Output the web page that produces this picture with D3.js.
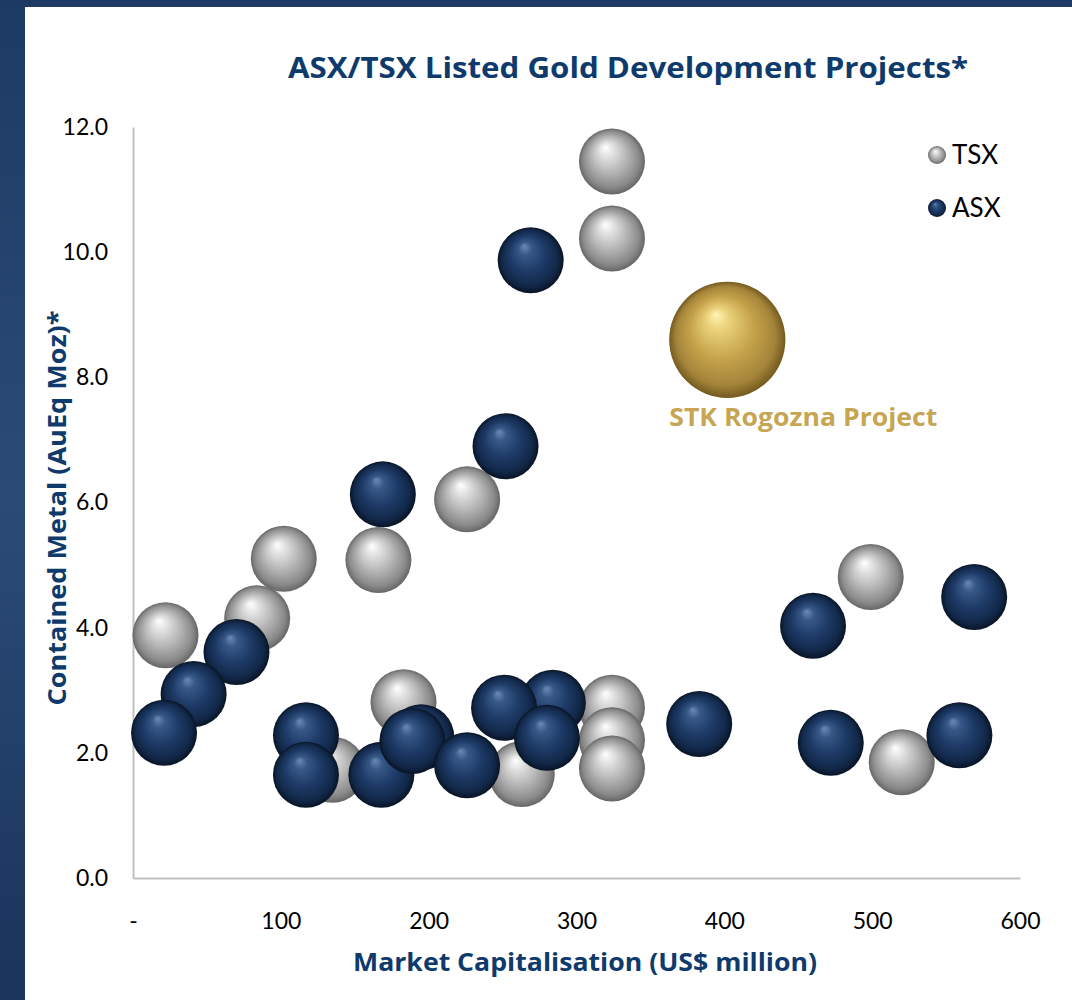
<!DOCTYPE html>
<html>
<head>
<meta charset="utf-8">
<script src="https://cdn.jsdelivr.net/npm/d3@7"></script>
<style>
  body { margin: 0; background: #1c3760; }
  svg { display: block; }
</style>
</head>
<body>
<div id="chart"></div>
<script>
// TSX listed projects: market cap (US$ m) and contained metal (AuEq Moz)
var tsxCap   = [324, 324, 22, 84, 102, 166, 226, 499, 183, 520, 324, 324, 324, 263, 135];
var tsxMetal = [11.45, 10.22, 3.88, 4.15, 5.10, 5.08, 6.05, 4.81, 2.81, 1.85, 2.72, 2.20, 1.75, 1.66, 1.73];

// ASX listed projects
var asxCap   = [269, 252, 169, 70, 41, 21, 117, 117, 168, 195, 189, 226, 284, 251, 280, 383, 460, 569, 472, 559];
var asxMetal = [9.87, 6.90, 6.13, 3.61, 2.94, 2.32, 2.28, 1.65, 1.65, 2.25, 2.19, 1.80, 2.80, 2.72, 2.24, 2.46, 4.03, 4.49, 2.16, 2.28];

// highlighted project
var stkName  = 'STK Rogozna Project';
var stkCap   = [402];
var stkMetal = [8.6];

// bubble sizes (relative)
var peerSize = 1;
var stkSize  = 3.1;

var xTicks = [0, 100, 200, 300, 400, 500, 600];
var yTicks = [0, 2, 4, 6, 8, 10, 12];

var W = 1072, H = 1000;
var navy = '#0e3a6c';
var gold = '#c6a553';

var svg = d3.select('#chart').append('svg')
    .attr('width', W)
    .attr('height', H);

// frame
var bg = svg.append('defs');
var frame = bg.append('linearGradient').attr('id', 'frame')
    .attr('x1', 0).attr('y1', 0).attr('x2', 0).attr('y2', 1);
frame.append('stop').attr('offset', '0%').attr('stop-color', '#1d3a63');
frame.append('stop').attr('offset', '50%').attr('stop-color', '#2b4b77');
frame.append('stop').attr('offset', '100%').attr('stop-color', '#1a345b');
svg.append('rect').attr('width', W).attr('height', H).attr('fill', 'url(#frame)');
svg.append('rect').attr('x', 25).attr('y', 7).attr('width', W - 25).attr('height', H - 7).attr('fill', '#fff');

function sphere(id, stops) {
    var g = bg.append('radialGradient').attr('id', id)
        .attr('cx', '50%').attr('cy', '50%').attr('r', '50%')
        .attr('fx', '40%').attr('fy', '28%');
    stops.forEach(function(s) {
        g.append('stop').attr('offset', s[0]).attr('stop-color', s[1]);
    });
}
sphere('gGray', [['0%', '#ffffff'], ['18%', '#e6e6e6'], ['55%', '#b4b4b4'], ['85%', '#8a8a8a'], ['100%', '#666666']]);
sphere('gNavy', [['0%', '#6d8ab5'], ['20%', '#375887'], ['55%', '#1d3a66'], ['85%', '#122849'], ['100%', '#091425']]);
sphere('gGold', [['0%', '#fff5b4'], ['20%', '#ead07a'], ['55%', '#c4a24a'], ['85%', '#a4843a'], ['100%', '#735a1e']]);

var x = d3.scaleLinear().domain([0, 600]).range([133, 1020]);
var y = d3.scaleLinear().domain([0, 12]).range([878, 127]);
var r = d3.scaleSqrt().domain([0, 1]).range([0, 33]);

// axes
var xAxis = svg.append('g')
    .attr('transform', 'translate(0,' + y(0) + ')')
    .call(d3.axisBottom(x).tickValues(xTicks).tickSize(0).tickPadding(35)
        .tickFormat(function(d) { return d === 0 ? '-' : d; }));
var yAxis = svg.append('g')
    .attr('transform', 'translate(' + x(0) + ',0)')
    .call(d3.axisLeft(y).tickValues(yTicks).tickSize(0).tickPadding(25)
        .tickFormat(d3.format('.1f')));

[xAxis, yAxis].forEach(function(a) {
    a.select('.domain').attr('stroke', '#bfbfbf').attr('stroke-width', 2);
    a.selectAll('text')
        .attr('font-family', 'Lato, "Open Sans", sans-serif')
        .attr('font-size', 23)
        .attr('fill', '#000');
});

// bubbles
function drawSeries(cls, caps, metals, size, fill) {
    svg.append('g').selectAll('circle.' + cls)
        .data(caps)
        .enter()
        .append('circle')
        .attr('class', cls)
        .attr('cx', function(d) { return x(d); })
        .attr('cy', function(d, i) { return y(metals[i]); })
        .attr('r', r(size))
        .attr('fill', fill);
}
drawSeries('tsx', tsxCap, tsxMetal, peerSize, 'url(#gGray)');
drawSeries('asx', asxCap, asxMetal, peerSize, 'url(#gNavy)');
drawSeries('stk', stkCap, stkMetal, stkSize, 'url(#gGold)');

svg.append('text')
    .attr('x', x(stkCap[0]) + 76)
    .attr('y', y(stkMetal[0]) + 86)
    .attr('text-anchor', 'middle')
    .attr('font-family', '"Open Sans", sans-serif')
    .attr('font-weight', 700)
    .attr('font-size', 25)
    .attr('textLength', 268)
    .attr('lengthAdjust', 'spacingAndGlyphs')
    .attr('fill', gold)
    .text(stkName);

// legend
var legend = [['TSX', 'url(#gGray)'], ['ASX', 'url(#gNavy)']];
var lg = svg.append('g').selectAll('g')
    .data(legend)
    .enter()
    .append('g')
    .attr('transform', function(d, i) { return 'translate(937,' + (155 + i * 53) + ')'; });
lg.append('circle').attr('r', 9).attr('fill', function(d) { return d[1]; });
lg.append('text')
    .attr('x', 15)
    .attr('y', 9)
    .attr('font-family', 'Lato, "Open Sans", sans-serif')
    .attr('font-size', 26)
    .attr('fill', '#000')
    .text(function(d) { return d[0]; });

// titles
svg.append('text')
    .attr('x', 628).attr('y', 78)
    .attr('text-anchor', 'middle')
    .attr('font-family', '"Open Sans", sans-serif')
    .attr('font-weight', 700)
    .attr('font-size', 28)
    .attr('textLength', 680)
    .attr('lengthAdjust', 'spacingAndGlyphs')
    .attr('fill', navy)
    .text('ASX/TSX Listed Gold Development Projects*');

svg.append('text')
    .attr('x', 585).attr('y', 971)
    .attr('text-anchor', 'middle')
    .attr('font-family', '"Open Sans", sans-serif')
    .attr('font-weight', 700)
    .attr('font-size', 25)
    .attr('textLength', 464)
    .attr('lengthAdjust', 'spacingAndGlyphs')
    .attr('fill', navy)
    .text('Market Capitalisation (US$ million)');

svg.append('text')
    .attr('transform', 'translate(66,508) rotate(-90)')
    .attr('text-anchor', 'middle')
    .attr('font-family', '"Open Sans", sans-serif')
    .attr('font-weight', 700)
    .attr('font-size', 25)
    .attr('textLength', 395)
    .attr('lengthAdjust', 'spacingAndGlyphs')
    .attr('fill', navy)
    .text('Contained Metal (AuEq Moz)*');
</script>
</body>
</html>
